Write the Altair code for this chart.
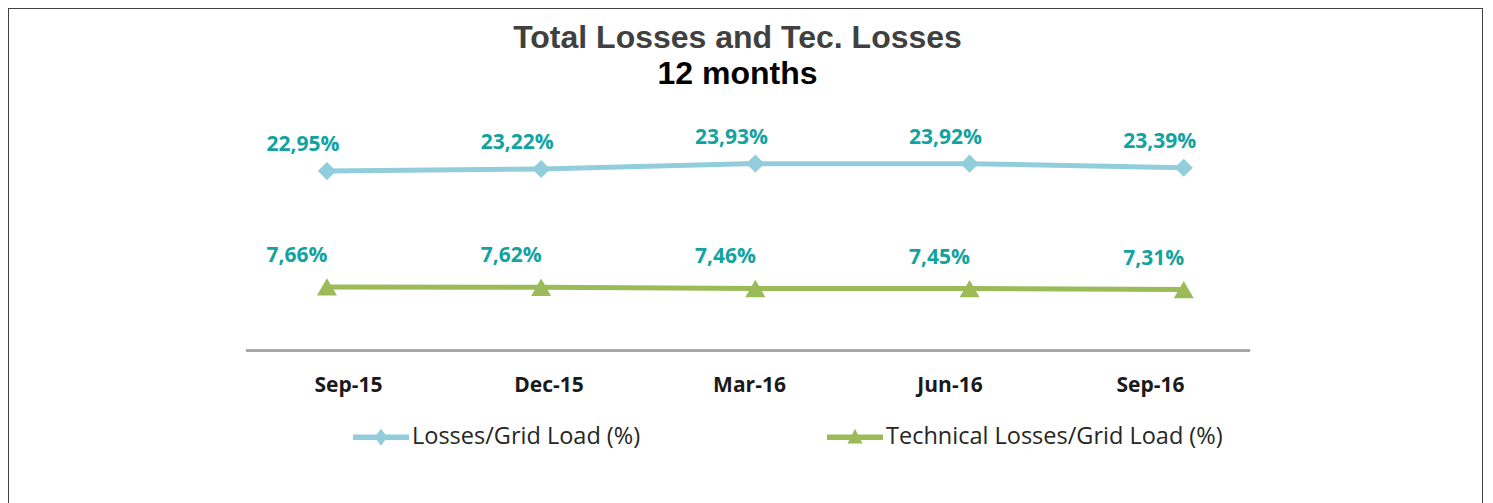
import json
import altair as alt
import pandas as pd

# ---- data ----
months = ["Sep-15", "Dec-15", "Mar-16", "Jun-16", "Sep-16"]
losses = [22.95, 23.22, 23.93, 23.92, 23.39]
technical = [7.66, 7.62, 7.46, 7.45, 7.31]
series_names = ["Losses/Grid Load (%)", "Technical Losses/Grid Load (%)"]

def fmt(v):
    return f"{v:.2f}%".replace(".", ",")

rows = []
for i, m in enumerate(months):
    rows.append({"idx": i, "month": m, "series": series_names[0], "value": losses[i], "label": fmt(losses[i])})
for i, m in enumerate(months):
    rows.append({"idx": i, "month": m, "series": series_names[1], "value": technical[i], "label": fmt(technical[i])})
df = pd.DataFrame(rows)
legend_df = pd.DataFrame({"series": series_names})

# ---- styling ----
BLUE = "#92CDDC"
GREEN = "#9BBB59"
TEAL = "#12A3A0"
W, H = 1475, 500

# scale for the plotted series
x_scale = alt.Scale(domain=[-1.489, 5.397], nice=False, zero=False)
# scale for the category axis row (slightly tighter spacing than the markers, as in the original)
xl_scale = alt.Scale(domain=[-1.696, 5.661], nice=False, zero=False)
y_scale = alt.Scale(domain=[-21.5, 44.46], nice=False, zero=False)

x_axis = alt.Axis(
    values=list(range(len(months))),
    labelExpr=json.dumps(months) + "[datum.value]",
    domain=False, ticks=False, grid=False, title=None,
    offset=-157, labelPadding=34, labelBaseline="middle",
    labelFont="Open Sans", labelFontWeight="bold", labelFontSize=21,
    labelColor="#1a1a1a",
)
X = alt.X("idx:Q", scale=x_scale, axis=None)
Y = alt.Y("value:Q", scale=y_scale, axis=None)

base = alt.Chart(df)

layers = []
# category axis with its base line
layers.append(base.mark_rule(color="#A6A6A6", strokeWidth=2).encode(
    x=alt.XDatum(-0.509, scale=xl_scale, axis=x_axis),
    x2=alt.X2Datum(4.499),
    y=alt.YDatum(-0.75, scale=y_scale, axis=None)))

styles = [
    (series_names[0], BLUE, "diamond", 330, -24, -26),
    (series_names[1], GREEN, "triangle-up", 400, -30, -31),
]
for name, col, shp, size, dx, dy in styles:
    sub = base.transform_filter(alt.datum.series == name)
    layers.append(sub.mark_line(color=col, strokeWidth=5).encode(x=X, y=Y))
    layers.append(sub.mark_point(shape=shp, filled=True, opacity=1, size=size, color=col).encode(x=X, y=Y))
    layers.append(sub.mark_text(color=TEAL, font="Open Sans", fontWeight="bold", fontSize=21,
                                dx=dx, dy=dy, baseline="middle").encode(x=X, y=Y, text="label:N"))

# legend layer: its own marks sit outside the clipped view, only the legend shows
legend_paths = [
    "M-1,-0.1L1,-0.1L1,0.1L-1,0.1Z M0,-0.3L0.23,0L0,0.3L-0.23,0Z",
    "M-1,-0.1L1,-0.1L1,0.1L-1,0.1Z M0,-0.3L0.27,0.22L-0.27,0.22Z",
]
legend = alt.Legend(
    title=None, orient="none", direction="horizontal",
    legendX=345, legendY=401,
    symbolSize=3136, symbolStrokeWidth=0, symbolOpacity=1,
    labelFont="Open Sans", labelFontSize=23.5, labelColor="#262626",
    labelOffset=3, columnPadding=186, labelLimit=600,
)
legend_layer = alt.Chart(legend_df).mark_point(filled=True, clip=True, opacity=1).encode(
    x=alt.XDatum(100, scale=x_scale, axis=None),
    y=alt.YDatum(100, scale=y_scale, axis=None),
    color=alt.Color("series:N", scale=alt.Scale(domain=series_names, range=[BLUE, GREEN]), legend=legend),
    shape=alt.Shape("series:N", scale=alt.Scale(domain=series_names, range=legend_paths), legend=legend),
)
layers.append(legend_layer)

chart = alt.layer(*layers).resolve_scale(x="independent").properties(
    width=W, height=H,
    title=alt.TitleParams(
        text="Total Losses and Tec. Losses",
        subtitle="12 months",
        anchor="middle", frame="group", orient="top", offset=-83, dx=-8,
        font="Liberation Sans", fontSize=32, fontWeight="bold", color="#404040",
        subtitleFont="Liberation Sans", subtitleFontSize=32, subtitleFontWeight="bold",
        subtitleColor="#000000", subtitlePadding=4,
    ),
    padding=0,
    background="white",
).configure_view(
    stroke="#404040", strokeWidth=2
)

chart.save("out.html", embed_options={"renderer": "svg", "actions": False})
